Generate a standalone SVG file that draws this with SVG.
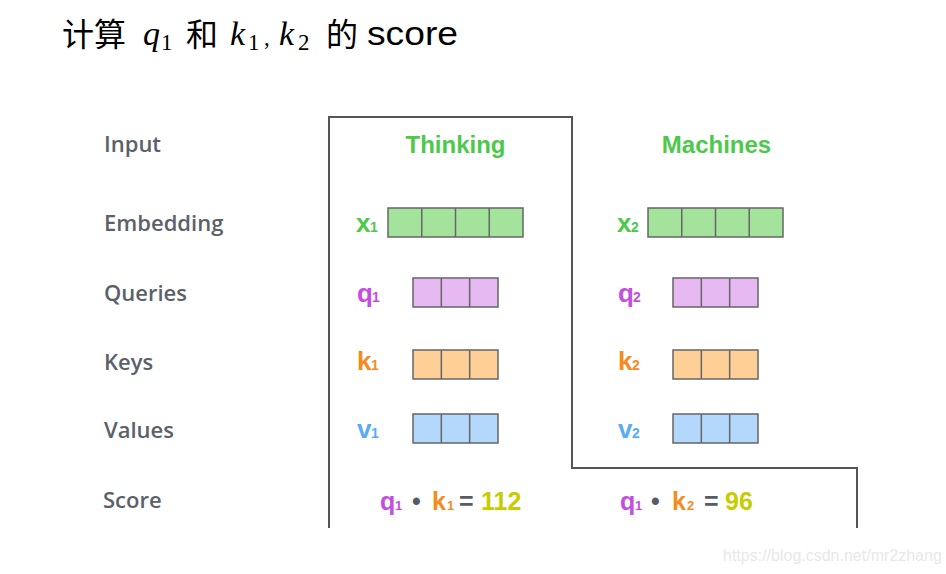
<svg xmlns="http://www.w3.org/2000/svg" width="946" height="574" viewBox="0 0 946 574">
<style>
.title{font-family:"Liberation Sans","Noto Sans CJK SC",sans-serif;font-size:34px;fill:#000}
.cjk{font-family:"Noto Sans CJK SC","Liberation Sans",sans-serif;font-size:32px;fill:#000}
.math{font-family:"Liberation Serif",serif;font-style:italic;font-size:34px;fill:#000}
.msub{font-family:"Liberation Serif",serif;font-size:23px;fill:#000}
.row{font-family:"Open Sans","Liberation Sans",sans-serif;font-weight:600;font-size:22px;fill:#5a616b}
.word{font-family:"Liberation Sans",Arial,sans-serif;font-weight:bold;font-size:24px;fill:#4cc94b}
.lbl{font-family:"Liberation Sans",Arial,sans-serif;font-weight:bold;font-size:26px}
.sub{font-family:"Liberation Sans",Arial,sans-serif;font-weight:bold;font-size:14px}
.sc{font-family:"Liberation Sans",Arial,sans-serif;font-weight:bold;font-size:25px}
.scs{font-family:"Liberation Sans",Arial,sans-serif;font-weight:bold;font-size:13px}
.green{fill:#4cc94b}.purple{fill:#c34fe0}.orange{fill:#f68a1e}.blue{fill:#5aabf6}.gray{fill:#555c66}.yellow{fill:#c7cc00}
.cell{stroke:#666;stroke-width:1.5}
.gE{fill:#a4e39c}.pQ{fill:#e6b9f2}.oK{fill:#fecf97}.bV{fill:#b3d8fb}
.outline{fill:none;stroke:#555;stroke-width:2}
.wm{font-family:"Liberation Sans",Arial,sans-serif;font-size:16px;fill:#e8e8e8}
</style>
<rect width="946" height="574" fill="#fff"/>

<g id="title">
<text class="cjk" x="62" y="46">计算</text>
<text class="math" x="143" y="45">q</text>
<text class="msub" x="161" y="50">1</text>
<text class="cjk" x="186" y="46">和</text>
<text class="math" x="230" y="45">k</text>
<text class="msub" x="248" y="50">1</text>
<text class="msub" x="264" y="45">,</text>
<text class="math" x="279" y="45">k</text>
<text class="msub" x="298" y="50">2</text>
<text class="cjk" x="326" y="46">的</text>
<text class="title" x="367" y="45" textLength="91" lengthAdjust="spacingAndGlyphs">score</text>
</g>

<g id="outline">
<path class="outline" d="M329,528 V117 H572 V468 H857 V528"/>
</g>

<g id="row-labels">
<text class="row" x="104" y="152">Input</text>
<text class="row" x="104" y="231">Embedding</text>
<text class="row" x="104" y="301">Queries</text>
<text class="row" x="104" y="370">Keys</text>
<text class="row" x="104" y="438">Values</text>
<text class="row" x="103" y="508">Score</text>
</g>

<g id="word-thinking"><text class="word" x="455.5" y="153" text-anchor="middle">Thinking</text></g>
<g id="word-machines"><text class="word" x="716.5" y="153" text-anchor="middle">Machines</text></g>

<g id="x1">
<text class="lbl green" x="356" y="232">x</text><text class="sub green" x="370" y="232">1</text>
<rect class="cell gE" x="388" y="208" width="135" height="29"/>
<path class="cell" d="M421.75,208V237M455.5,208V237M489.25,208V237"/>
</g>
<g id="x2">
<text class="lbl green" x="617" y="232">x</text><text class="sub green" x="631" y="232">2</text>
<rect class="cell gE" x="648" y="208" width="135" height="29"/>
<path class="cell" d="M681.75,208V237M715.5,208V237M749.25,208V237"/>
</g>

<g id="q1">
<text class="lbl purple" x="357" y="302">q</text><text class="sub purple" x="372" y="302">1</text>
<rect class="cell pQ" x="413" y="278" width="85" height="29"/>
<path class="cell" d="M441.33,278V307M469.67,278V307"/>
</g>
<g id="q2">
<text class="lbl purple" x="618" y="302">q</text><text class="sub purple" x="633" y="302">2</text>
<rect class="cell pQ" x="673" y="278" width="85" height="29"/>
<path class="cell" d="M701.33,278V307M729.67,278V307"/>
</g>

<g id="k1">
<text class="lbl orange" x="357" y="370">k</text><text class="sub orange" x="371" y="370">1</text>
<rect class="cell oK" x="413" y="350" width="85" height="29"/>
<path class="cell" d="M441.33,350V379M469.67,350V379"/>
</g>
<g id="k2">
<text class="lbl orange" x="618" y="370">k</text><text class="sub orange" x="632" y="370">2</text>
<rect class="cell oK" x="673" y="350" width="85" height="29"/>
<path class="cell" d="M701.33,350V379M729.67,350V379"/>
</g>

<g id="v1">
<text class="lbl blue" x="357" y="438">v</text><text class="sub blue" x="371" y="438">1</text>
<rect class="cell bV" x="413" y="414" width="85" height="29"/>
<path class="cell" d="M441.33,414V443M469.67,414V443"/>
</g>
<g id="v2">
<text class="lbl blue" x="618" y="438">v</text><text class="sub blue" x="632" y="438">2</text>
<rect class="cell bV" x="673" y="414" width="85" height="29"/>
<path class="cell" d="M701.33,414V443M729.67,414V443"/>
</g>

<g id="score1">
<text class="sc purple" x="380" y="510">q</text><text class="scs purple" x="395" y="510">1</text>
<text class="sc gray" x="412" y="510">•</text>
<text class="sc orange" x="432" y="510">k</text><text class="scs orange" x="447" y="510">1</text>
<text class="sc gray" x="459" y="510">=</text>
<text class="sc yellow" x="481" y="510">112</text>
</g>
<g id="score2">
<text class="sc purple" x="620" y="510">q</text><text class="scs purple" x="635" y="510">1</text>
<text class="sc gray" x="651" y="510">•</text>
<text class="sc orange" x="672" y="510">k</text><text class="scs orange" x="687" y="510">2</text>
<text class="sc gray" x="704" y="510">=</text>
<text class="sc yellow" x="725" y="510">96</text>
</g>

<g id="watermark"><text class="wm" x="723" y="561">https://blog.csdn.net/mr2zhang</text></g>
</svg>
